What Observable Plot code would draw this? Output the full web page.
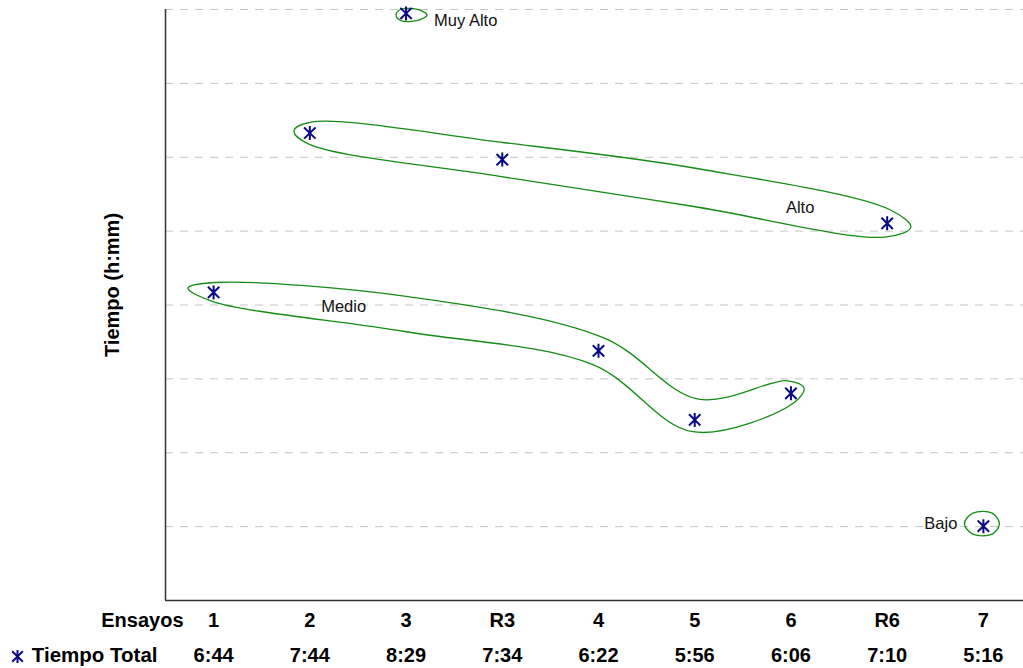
<!DOCTYPE html>
<html><head><meta charset="utf-8">
<script src="https://cdn.jsdelivr.net/npm/d3@7"></script>
<script src="https://cdn.jsdelivr.net/npm/@observablehq/plot@0.6"></script>
<style>body{margin:0;background:#fff;} #chart svg{display:block;}</style>
</head><body><div id="chart"></div>
<script>
// ---- data ----
const ensayos = ["1","2","3","R3","4","5","6","R6","7"];
const tiempoTotal = ["6:44","7:44","8:29","7:34","6:22","5:56","6:06","7:10","5:16"];
const grupoNombres = ["Muy Alto","Alto","Medio","Bajo"];
const grupoMiembros = [["3"],["2","R3","R6"],["1","4","5","6"],["7"]];
const serieNombre = "Tiempo Total";
const ejeXTitulo = "Ensayos";
const ejeYTitulo = "Tiempo (h:mm)";
const yMin = 288, yMax = 510.5;   // y axis range, minutes

// ---- layout ----
const W = 1023, H = 668, mL = 165, mR = -8, mT = 9, mB = 68;
const FONT = "Liberation Sans, Arial, sans-serif";
const NAVY = "#0a0a86", GREEN = "#138c13";

const toMin = t => { const [h, m] = t.split(":").map(Number); return h * 60 + m; };
const puntos = ensayos.map((e, i) => ({e, i, min: toMin(tiempoTotal[i]), t: tiempoTotal[i]}));
const byE = new Map(puntos.map(p => [p.e, p]));

const xDomain = [-0.5, ensayos.length - 0.5];
const xPx = d3.scaleLinear(xDomain, [mL, W - mR]);
const yPx = d3.scaleLinear([yMin, yMax], [H - mB, mT]);

// star marker (Excel style: vertical bar + X)
const star = {draw(ctx, size) {
  const r = Math.sqrt(size / Math.PI), a = r * 0.82, b = r * 0.8;
  ctx.moveTo(0, -r); ctx.lineTo(0, r);
  ctx.moveTo(-a, -b); ctx.lineTo(a, b);
  ctx.moveTo(-a, b); ctx.lineTo(a, -b);
}};

// ---- group outlines: smooth closed band around the members (pixel offsets) ----
const forma = {
  "Muy Alto": {t: [0], rT: [4], rB: [7], e: [10, 21]},
  "Alto":     {t: [0, 1, 1.5, 2], rT: [11, 17, 23, 14], rB: [11, 17, 15, 14], e: [16, 24]},
  "Medio":    {t: [0, 0.5, 1, 2, 3], rT: [10, 25, 14, 21, 13], rB: [9, 10, 15, 12, 10], e: [26, 14]},
  "Bajo":     {t: [0], rT: [13], rB: [8], e: [19, 16]}
};
function contorno(nombre, miembros) {
  const P = miembros.map(e => [xPx(byE.get(e).i), yPx(byE.get(e).min)]);
  const f = forma[nombre];
  const nodes = f.t.map(t => {
    const a = Math.floor(t), b = Math.min(Math.ceil(t), P.length - 1), u = t - a;
    return [P[a][0] + (P[b][0] - P[a][0]) * u, P[a][1] + (P[b][1] - P[a][1]) * u];
  });
  const n = nodes.length;
  const unit = (dx, dy) => { const l = Math.hypot(dx, dy); return [dx / l, dy / l]; };
  const tang = i => {
    if (n === 1) return [1, 0];
    const j0 = Math.max(0, i - 1), j1 = Math.min(n - 1, i + 1);
    if (i === 0 || i === n - 1) return unit(nodes[j1][0] - nodes[j0][0], nodes[j1][1] - nodes[j0][1]);
    const d1 = unit(nodes[i][0] - nodes[i - 1][0], nodes[i][1] - nodes[i - 1][1]);
    const d2 = unit(nodes[i + 1][0] - nodes[i][0], nodes[i + 1][1] - nodes[i][1]);
    return unit(d1[0] + d2[0], d1[1] + d2[1]);
  };
  let top = [], bot = [];
  nodes.forEach((p, i) => {
    const [tx, ty] = tang(i), nx = ty, ny = -tx;
    top.push([p[0] + nx * f.rT[i], p[1] + ny * f.rT[i]]);
    bot.push([p[0] - nx * f.rB[i], p[1] - ny * f.rB[i]]);
  });
  const t0 = tang(0), t1 = tang(n - 1);
  const m0 = [(top[0][0] + bot[0][0]) / 2, (top[0][1] + bot[0][1]) / 2];
  const m1 = [(top[n - 1][0] + bot[n - 1][0]) / 2, (top[n - 1][1] + bot[n - 1][1]) / 2];
  const start = [m0[0] - t0[0] * f.e[0], m0[1] - t0[1] * f.e[0]];
  const end = [m1[0] + t1[0] * f.e[1], m1[1] + t1[1] * f.e[1]];
  if (n === 1) {
    const [x] = nodes[0];
    top = [[x - 0.55 * f.e[0], top[0][1]], [x + 0.55 * f.e[1], top[0][1]]];
    bot = [[x - 0.55 * f.e[0], bot[0][1]], [x + 0.55 * f.e[1], bot[0][1]]];
  }
  return [start, ...top, end, ...bot.reverse()]
    .map(([px, py]) => ({g: nombre, x: xPx.invert(px), y: yPx.invert(py)}));
}
const contornos = grupoNombres.flatMap((g, k) => contorno(g, grupoMiembros[k]));

// label placement per group (anchor member + pixel offset)
const etiqueta = {
  "Muy Alto": {m: 0, dx: 28, dy: 7, anchor: "start"},
  "Alto":     {m: 2, dx: -87, dy: -16, anchor: "middle"},
  "Medio":    {m: 0, dx: 130, dy: 14, anchor: "middle"},
  "Bajo":     {m: 0, dx: -26, dy: -2, anchor: "end"}
};
const etiquetaMarks = grupoNombres.map((g, k) => {
  const c = etiqueta[g], p = byE.get(grupoMiembros[k][c.m]);
  return Plot.text([{g, i: p.i, min: p.min}], {x: "i", y: "min", text: "g", dx: c.dx, dy: c.dy,
    textAnchor: c.anchor, fontSize: 16.5, fill: "#111"});
});

const gridTicks = d3.range(1, 9).map(k => yMin + k * (yMax - yMin) / 8);

const chart = Plot.plot({
  width: W, height: H,
  marginLeft: mL, marginRight: mR, marginTop: mT, marginBottom: mB,
  style: {fontFamily: FONT, background: "white", overflow: "visible"},
  x: {domain: xDomain, axis: null},
  y: {domain: [yMin, yMax], axis: null},
  marks: [
    Plot.ruleY(gridTicks, {stroke: "#c4c4c4", strokeDasharray: "8,7", strokeWidth: 1}),
    Plot.ruleX([xDomain[0]], {stroke: "#333", strokeWidth: 1.5}),
    Plot.ruleY([yMin], {stroke: "#333", strokeWidth: 1.5}),
    Plot.line(contornos, {x: "x", y: "y", z: "g", curve: "catmull-rom-closed", stroke: GREEN, strokeWidth: 1.3}),
    Plot.dot(puntos, {x: "i", y: "min", symbol: star, r: 7, stroke: NAVY, strokeWidth: 2}),
    ...etiquetaMarks,
    // data-table rows below the axis
    Plot.text(puntos, {x: "i", frameAnchor: "bottom", text: "e", dy: 26, fontSize: 20, fontWeight: "bold", fill: "#000"}),
    Plot.text(puntos, {x: "i", frameAnchor: "bottom", text: "t", dy: 61, fontSize: 20, fontWeight: "bold", fill: "#000"}),
    Plot.text([ejeXTitulo], {frameAnchor: "bottom-left", dx: 18, dy: 26, textAnchor: "end", fontSize: 20, fontWeight: "bold", fill: "#000"}),
    Plot.text([serieNombre], {frameAnchor: "bottom-left", dx: -8, dy: 61, textAnchor: "end", fontSize: 20.5, fontWeight: "bold", fill: "#000"}),
    Plot.dot([serieNombre], {frameAnchor: "bottom-left", dx: -148, dy: 56, symbol: star, r: 6.5, stroke: NAVY, strokeWidth: 2}),
    // y axis title
    Plot.text([ejeYTitulo], {frameAnchor: "left", textAnchor: "middle", rotate: -90, dx: -53, dy: -20, fontSize: 20, fontWeight: "bold", fill: "#000"})
  ]
});
document.getElementById("chart").append(chart);
</script>
</body></html>
